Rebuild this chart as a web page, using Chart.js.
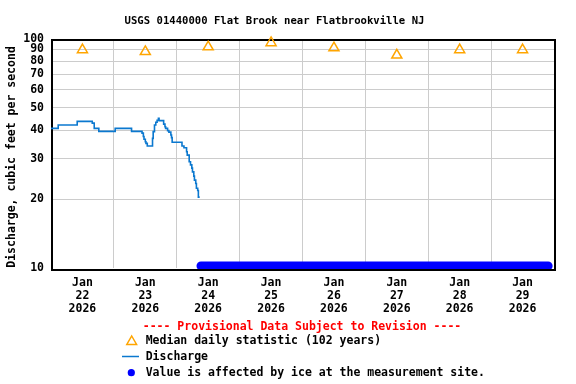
<!DOCTYPE html>
<html>
<head>
<meta charset="utf-8">
<script src="https://cdn.jsdelivr.net/npm/chart.js@4.4.1/dist/chart.umd.min.js"></script>
<style>
  html, body { margin: 0; padding: 0; background: #fff; }
  #wrap { position: relative; width: 576px; height: 384px; overflow: hidden;
          font-family: "DejaVu Sans Mono", monospace; font-weight: bold; }
  canvas { position: absolute; left: 0; top: 0; }
  .t { position: absolute; white-space: pre; line-height: 1; color: #000; }
  svg { position: absolute; overflow: visible; }
</style>
</head>
<body>
<div id="wrap">
  <canvas id="c" width="576" height="384"></canvas>
  <div class="t" style="left:274.5px; top:20px; transform:translate(-50%,-50%); font-size:10.6px;">USGS 01440000 Flat Brook near Flatbrookville NJ</div>
  <div class="t" style="left:302px; top:327px; transform:translate(-50%,-50%); font-size:11.5px; color:#ff0000;">---- Provisional Data Subject to Revision ----</div>
  <svg style="left:0;top:0" width="576" height="384">
    <polygon points="131.7,336 136.6,344.5 126.8,344.5" fill="none" stroke="#ffa500" stroke-width="1.5"/>
    <line x1="122" y1="356.5" x2="139" y2="356.5" stroke="#0b78cf" stroke-width="1.5"/>
    <circle cx="131.3" cy="372.7" r="3.6" fill="#0000ff"/>
  </svg>
  <div class="t" style="left:145.7px; top:341px; transform:translate(0,-50%); font-size:11.5px;">Median daily statistic (102 years)</div>
  <div class="t" style="left:145.7px; top:357px; transform:translate(0,-50%); font-size:11.5px;">Discharge</div>
  <div class="t" style="left:145.7px; top:373px; transform:translate(0,-50%); font-size:11.5px;">Value is affected by ice at the measurement site.</div>
</div>
<script>
// ---- data ----
const dischargeTimes = [
  '2026-01-22T00:00','2026-01-22T02:45','2026-01-22T10:00','2026-01-22T15:45','2026-01-22T16:30','2026-01-22T18:15',
  '2026-01-23T00:30','2026-01-23T06:45','2026-01-23T10:45','2026-01-23T11:15','2026-01-23T11:30','2026-01-23T12:00',
  '2026-01-23T12:15','2026-01-23T12:45','2026-01-23T14:45','2026-01-23T15:00','2026-01-23T15:30','2026-01-23T16:00',
  '2026-01-23T16:30','2026-01-23T17:00','2026-01-23T17:15','2026-01-23T19:00','2026-01-23T19:30','2026-01-23T19:45',
  '2026-01-23T20:30','2026-01-23T21:00','2026-01-23T21:45','2026-01-23T22:00','2026-01-23T22:15',
  '2026-01-24T02:00','2026-01-24T02:45','2026-01-24T03:45','2026-01-24T04:00','2026-01-24T04:45','2026-01-24T05:15',
  '2026-01-24T05:45','2026-01-24T06:00','2026-01-24T06:30','2026-01-24T06:45','2026-01-24T07:15','2026-01-24T07:30',
  '2026-01-24T08:00','2026-01-24T08:15','2026-01-24T08:45'
];
const dischargeValues = [
  40.7, 42.1, 43.7, 42.9, 40.7, 39.5,
  40.7, 39.5, 38.8, 37.5, 36.5, 35.6,
  35.0, 34.1, 36.8, 39.4, 42.1, 43.3,
  44.2, 45.1, 44.0, 42.5, 41.4, 40.7,
  39.8, 39.2, 38.1, 37.1, 35.4,
  34.1, 33.5, 32.2, 31.1, 29.1, 28.2,
  27.3, 26.3, 25.2, 24.2, 23.4, 22.3,
  21.8, 20.4, 20.4
];
const medianTimes = ['2026-01-22T12:00','2026-01-23T12:00','2026-01-24T12:00','2026-01-25T12:00',
                     '2026-01-26T12:00','2026-01-27T12:00','2026-01-28T12:00','2026-01-29T12:00'];
const medianValues = [89.7, 88.0, 92.3, 96.3, 91.4, 85.0, 89.7, 89.7];
const iceTimes = ['2026-01-24T09:15', '2026-01-29T21:45'];
const iceValues = [10.2, 10.2];

const tickMonths = ['Jan','Jan','Jan','Jan','Jan','Jan','Jan','Jan'];
const tickDays   = ['22','23','24','25','26','27','28','29'];
const tickYears  = ['2026','2026','2026','2026','2026','2026','2026','2026'];
const yTickValues = [10, 20, 30, 40, 50, 60, 70, 80, 90, 100];

// ---- helpers ----
const START = Date.parse('2026-01-22T00:00:00Z');
const dayOf = s => (Date.parse(s + ':00Z') - START) / 86400000;
const pts = (ts, vs) => ts.map((t, i) => ({ x: dayOf(t), y: vs[i] }));
const FONT = 'DejaVu Sans Mono';

const xTicks = [];
tickDays.forEach((d, i) => { xTicks.push(i); xTicks.push(i + 0.5); });
xTicks.push(tickDays.length);

const borderPlugin = {
  id: 'frame',
  afterDatasetDraw(chart, args) {
    if (args.index !== 2) return;
    const a = chart.chartArea, ctx = chart.ctx;
    ctx.save();
    ctx.strokeStyle = '#000';
    ctx.lineWidth = 2;
    ctx.strokeRect(a.left + 1, a.top + 1, a.right - a.left, a.bottom - a.top + 1);
    ctx.restore();
  }
};

new Chart(document.getElementById('c'), {
  type: 'line',
  data: {
    datasets: [
      {
        label: 'Median daily statistic (102 years)',
        data: pts(medianTimes, medianValues),
        showLine: false,
        pointStyle: 'triangle',
        pointRadius: 5.8,
        pointBorderColor: '#ffa500',
        pointBackgroundColor: 'rgba(255,255,255,0)',
        pointBorderWidth: 1.5,
        clip: false
      },
      {
        label: 'Discharge',
        data: pts(dischargeTimes, dischargeValues),
        borderColor: '#0b78cf',
        borderWidth: 1.6,
        pointRadius: 0,
        stepped: 'before',
        fill: false
      },
      {
        label: 'Value is affected by ice at the measurement site.',
        data: pts(iceTimes, iceValues),
        borderColor: '#0000ff',
        borderWidth: 9,
        borderCapStyle: 'round',
        pointRadius: 0,
        fill: false,
        clip: false
      }
    ]
  },
  options: {
    responsive: false,
    animation: false,
    devicePixelRatio: 1,
    layout: { padding: { left: 0, top: 39, right: 22, bottom: 0 } },
    plugins: { legend: { display: false }, tooltip: { enabled: false }, title: { display: false } },
    scales: {
      x: {
        type: 'linear', min: 0, max: tickDays.length,
        afterBuildTicks: s => { s.ticks = xTicks.map(v => ({ value: v })); },
        afterFit: s => { s.height = 116; },
        border: { display: false },
        grid: {
          drawTicks: false,
          color: c => (c.tick && Number.isInteger(c.tick.value)) ? '#cccccc' : 'rgba(0,0,0,0)',
          lineWidth: 1
        },
        ticks: {
          autoSkip: false, maxRotation: 0, minRotation: 0, padding: 8.5, color: '#000',
          font: { family: FONT, weight: 'bold', size: 11.5, lineHeight: '13px' },
          callback: v => {
            if (Math.abs(v % 1 - 0.5) < 1e-6) {
              const i = Math.floor(v);
              return [tickMonths[i], tickDays[i], tickYears[i]];
            }
            return '';
          }
        }
      },
      y: {
        type: 'logarithmic', min: 10, max: 100,
        afterBuildTicks: s => { s.ticks = yTickValues.map(v => ({ value: v })); },
        afterFit: s => { s.width = 51; },
        border: { display: false },
        grid: {
          drawTicks: false,
          color: c => (c.tick && (c.tick.value === 10 || c.tick.value === 100)) ? 'rgba(0,0,0,0)' : '#cccccc',
          lineWidth: 1
        },
        ticks: {
          padding: 7, color: '#000',
          font: { family: FONT, weight: 'bold', size: 11.5 },
          callback: v => String(v)
        },
        title: {
          display: true,
          text: 'Discharge, cubic feet per second ',
          color: '#000',
          padding: { top: 5, bottom: 0 },
          font: { family: FONT, weight: 'bold', size: 11.5 }
        }
      }
    }
  },
  plugins: [borderPlugin]
});
</script>
</body>
</html>
